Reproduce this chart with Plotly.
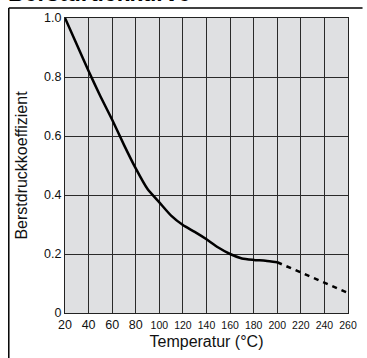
import plotly.graph_objects as go

# Data
temp_solid = [20, 30, 40, 50, 60, 70, 80, 90, 100, 110, 120, 130, 140, 150, 160, 170, 180, 190, 200]
coef_solid = [1.0, 0.91, 0.82, 0.735, 0.655, 0.57, 0.49, 0.42, 0.375, 0.33, 0.298, 0.275, 0.25, 0.222, 0.2, 0.185, 0.18, 0.177, 0.172]
temp_dashed = [200, 220, 240, 260]
coef_dashed = [0.172, 0.138, 0.103, 0.068]
x_ticks = [20, 40, 60, 80, 100, 120, 140, 160, 180, 200, 220, 240, 260]
y_ticks = [0, 0.2, 0.4, 0.6, 0.8, 1.0]
y_tick_labels = ["0", "0.2", "0.4", "0.6", "0.8", "1.0"]
title_text = "Berstdruckkurve"
x_title = "Temperatur (°C)"
y_title = "Berstdruckkoeffizient"

W, H = 367, 358
L, R, T, B = 65, 10, 18, 45
pw, ph = W - L - R, H - T - B

def px_x(p):
    return (p - L) / pw

def px_y(p):
    return 1 - (p - T) / ph

fig = go.Figure()
fig.add_trace(go.Scatter(x=temp_solid, y=coef_solid, mode="lines",
                         line=dict(color="black", width=2.5, shape="spline", smoothing=0.6),
                         showlegend=False, hoverinfo="skip"))
fig.add_trace(go.Scatter(x=temp_dashed, y=coef_dashed, mode="lines",
                         line=dict(color="black", width=2.5, dash="5px,5px"),
                         showlegend=False, hoverinfo="skip"))

font = "Liberation Sans, Arial, sans-serif"

x_labels = [str(v) if v < 100 else f"<span style='font-size:10.5px'>{v}</span>" for v in x_ticks]

fig.update_layout(
    width=W, height=H,
    margin=dict(l=L, r=R, t=T, b=B, pad=0),
    paper_bgcolor="white",
    plot_bgcolor="#dfe0e2",
    font=dict(family=font, color="#111", size=11),
    xaxis=dict(range=[20, 260], tickvals=x_ticks, ticktext=x_labels,
               showgrid=True, gridcolor="#2a2a2a", gridwidth=1.3,
               showline=True, linecolor="#222", linewidth=1.3, mirror=True,
               zeroline=False, ticks="", ticklen=0,
               tickfont=dict(size=12.5, family=font, color="#111"),
               title=dict(text=x_title, font=dict(size=16, family=font, color="#111"), standoff=4),
               fixedrange=True),
    yaxis=dict(range=[0, 1.0], tickvals=y_ticks, ticktext=y_tick_labels,
               showgrid=True, gridcolor="#2a2a2a", gridwidth=1.3,
               showline=True, linecolor="#222", linewidth=1.3, mirror=True,
               zeroline=False, ticks="", ticklen=0,
               tickfont=dict(size=12.5, family=font, color="#111"),
               title=dict(text=y_title, font=dict(size=16, family=font, color="#111"), standoff=12),
               fixedrange=True),
    shapes=[
        dict(type="line", xref="paper", yref="paper",
             x0=px_x(7), x1=px_x(W + 5), y0=px_y(8), y1=px_y(8),
             line=dict(color="black", width=1.5)),
        dict(type="line", xref="paper", yref="paper",
             x0=px_x(7), x1=px_x(7), y0=px_y(8), y1=px_y(H + 5),
             line=dict(color="black", width=1.5)),
    ],
    annotations=[
        dict(text=f"<b>{title_text}</b>", xref="paper", yref="paper",
             x=px_x(4), y=px_y(8), xanchor="left", yanchor="bottom",
             showarrow=False, font=dict(size=23, family=font, color="black")),
    ],
)

fig.write_html("out.html", config={"displayModeBar": False},
               post_script="document.body.style.margin='0';document.body.style.overflow='hidden';")
